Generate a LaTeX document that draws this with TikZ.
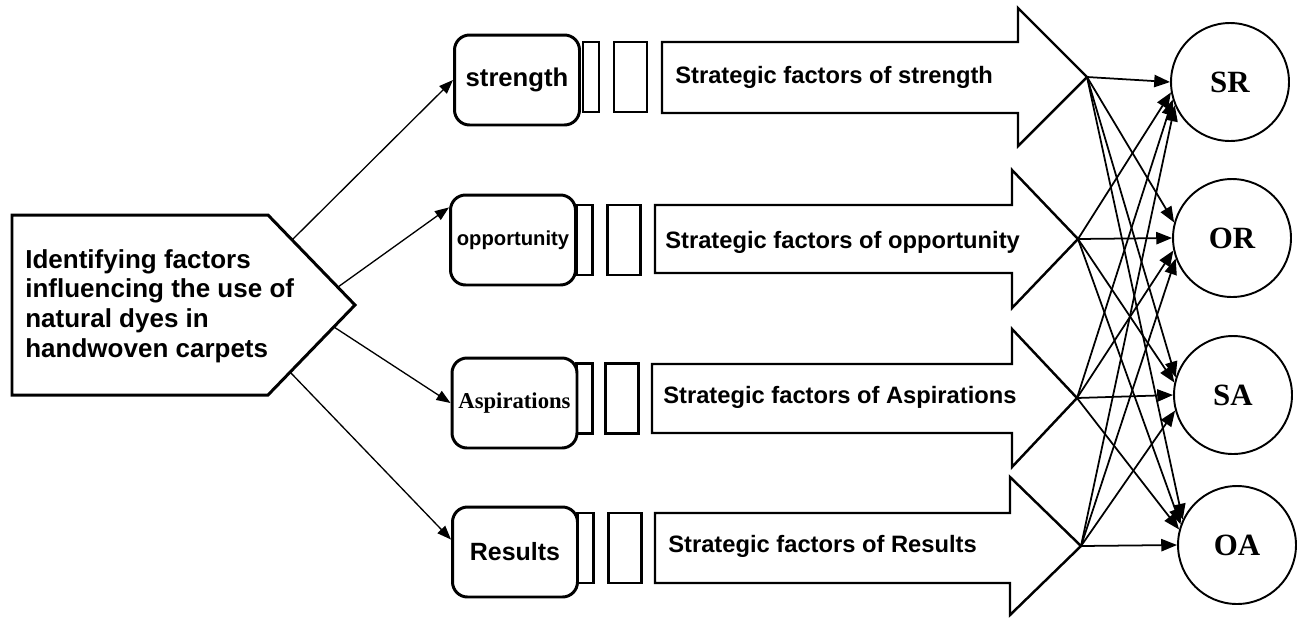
\documentclass[tikz,border=0pt]{standalone}
\usepackage{fontspec}
\setmainfont{Liberation Sans}
\newfontfamily\timesbf{Liberation Serif}
\usetikzlibrary{arrows.meta}
\usetikzlibrary{positioning}
\tikzset{roundbox/.style={draw, line width=1.7pt, rounded corners=0.3cm, fill=white, minimum width=2.5cm, minimum height=1.8cm, inner sep=0pt, font=\bfseries}}
\tikzset{slimbox/.style={draw, line width=1.5pt, minimum width=0.32cm, minimum height=1.4cm, inner sep=0pt}}
\tikzset{widebox/.style={draw, line width=1.5pt, minimum width=0.66cm, minimum height=1.4cm, inner sep=0pt}}
\tikzset{bigarrow/.style={draw, line width=1.4pt, line join=miter, fill=white}}
\tikzset{arrowtext/.style={anchor=west, inner sep=0pt, font=\bfseries\fontsize{13.5}{16}\selectfont}}
\tikzset{resultnode/.style={draw, circle, line width=1.1pt, minimum size=2.36cm, inner sep=0pt, font=\timesbf\bfseries\fontsize{17.6}{20}\selectfont}}
\tikzset{thinlink/.style={-{Triangle[length=8pt,width=6pt]}, line width=0.75pt}}
\tikzset{matchlink/.style={-{Triangle[length=9pt,width=7pt]}, line width=1pt}}

\begin{document}
\begin{tikzpicture}[x=0.02cm, y=-0.02cm]
\useasboundingbox (0,0) rectangle (1302,620);

% goal pentagon
\draw[line width=1.7pt, line join=miter] (12,215) -- (268,215) -- (355,305) -- (268,395) -- (12,395) -- cycle;
\node[anchor=west, align=left, inner sep=0pt, font=\bfseries\fontsize{14.8}{16.8}\selectfont] (goal) at (25,306) {Identifying factors\\influencing the use of\\natural dyes in\\handwoven carpets};
\coordinate (g1) at (292,240);
\coordinate (g2) at (338,287);
\coordinate (g3) at (334,327);
\coordinate (g4) at (290,372);

% small bars
\node[slimbox] (s1) at (591, 77) {};
\node[widebox] (w1) at (630.5, 77) {};
\node[slimbox] (s2) at (584.5, 240) {};
\node[widebox] (w2) at (624, 240) {};
\node[slimbox] (s3) at (584.5, 398.5) {};
\node[widebox] (w3) at (622, 398.5) {};
\node[slimbox] (s4) at (585.5, 548) {};
\node[widebox] (w4) at (625, 548) {};

% factor boxes
\node[roundbox, font=\bfseries\fontsize{14.6}{16}\selectfont] (str) at (517, 80) {strength};
\node[roundbox, font=\bfseries\fontsize{11.5}{14}\selectfont] (opp) at (513, 240) {opportunity};
\node[roundbox, font=\timesbf\bfseries\fontsize{12.9}{15}\selectfont] (asp) at (514.5, 403) {Aspirations};
\node[roundbox, font=\bfseries\fontsize{14.2}{16}\selectfont] (res) at (515, 552) {Results};

\draw[thinlink] (g1) -- (str.west);
\draw[thinlink] (g2) -- (opp.153);
\draw[thinlink] (g3) -- (asp.west);
\draw[thinlink] (g4) -- (res.169);

% big arrows
\draw[bigarrow] (662,42) -- (1018,42) -- (1018,8) -- (1087,77) -- (1018,146) -- (1018,113) -- (662,113) -- cycle;
\draw[bigarrow] (655,205) -- (1012,205) -- (1012,170) -- (1078,239) -- (1012,308) -- (1012,273) -- (655,273) -- cycle;
\draw[bigarrow] (652,364) -- (1012,364) -- (1012,329) -- (1077,398) -- (1012,467) -- (1012,433) -- (652,433) -- cycle;
\draw[bigarrow] (655,513) -- (1010,513) -- (1010,477) -- (1081,546) -- (1010,615) -- (1010,583) -- (655,583) -- cycle;
\coordinate (t1) at (1087,77);
\coordinate (t2) at (1078,239);
\coordinate (t3) at (1077,398);
\coordinate (t4) at (1081,546);

\node[arrowtext] (sf1) at (675, 77) {Strategic factors of strength};
\node[arrowtext] (sf2) at (665, 242) {Strategic factors of opportunity};
\node[arrowtext] (sf3) at (663, 397) {Strategic factors of Aspirations};
\node[arrowtext] (sf4) at (668, 546) {Strategic factors of Results};

% strategies
\node[resultnode] (SR) at (1230, 82) {SR};
\node[resultnode] (OR) at (1232, 238) {OR};
\node[resultnode] (SA) at (1233, 395) {SA};
\node[resultnode] (OA) at (1237, 545) {OA};

\draw[matchlink] (t1) -- (SR.180);
\draw[matchlink] (t1) -- (OR.165);
\draw[matchlink] (t1) -- (SA.163);
\draw[matchlink] (t1) -- (OA.155);
\draw[matchlink] (t2) -- (SR.190);
\draw[matchlink] (t2) -- (OR.180);
\draw[matchlink] (t2) -- (SA.168);
\draw[matchlink] (t2) -- (OA.160);
\draw[matchlink] (t3) -- (SR.197);
\draw[matchlink] (t3) -- (OR.192);
\draw[matchlink] (t3) -- (SA.180);
\draw[matchlink] (t3) -- (OA.165);
\draw[matchlink] (t4) -- (SR.203);
\draw[matchlink] (t4) -- (OR.200);
\draw[matchlink] (t4) -- (SA.195);
\draw[matchlink] (t4) -- (OA.180);

\end{tikzpicture}
\end{document}
